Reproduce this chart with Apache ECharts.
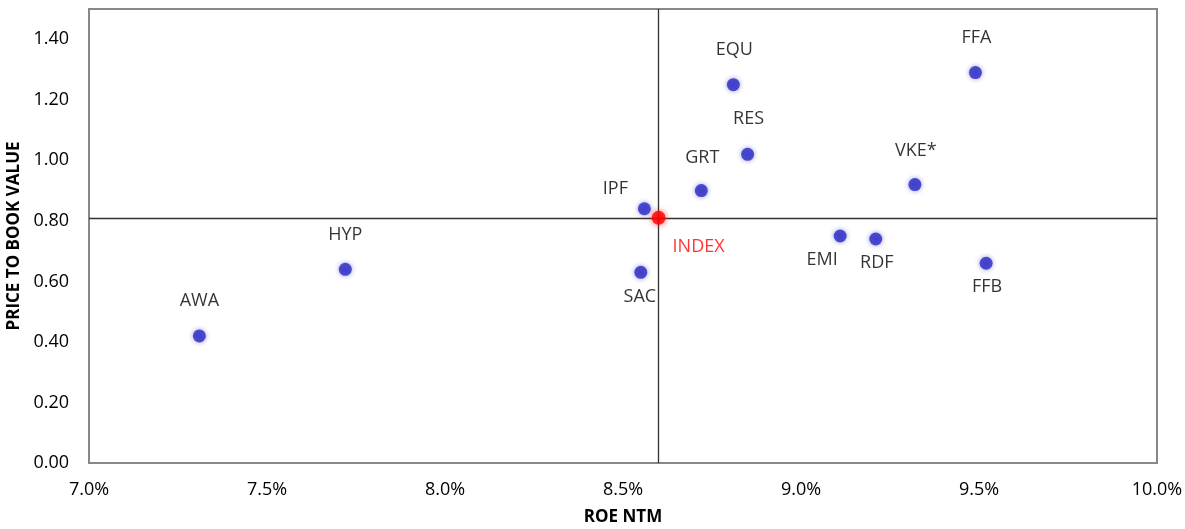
<!DOCTYPE html>
<html>
<head>
<meta charset="utf-8">
<script src="https://cdn.jsdelivr.net/npm/echarts@6/dist/echarts.min.js"></script>
<style>
  html, body { margin: 0; padding: 0; background: #fff; }
  #chart { width: 1185px; height: 529px; }
</style>
</head>
<body>
<div id="chart"></div>
<script>
// 数据
const names = ['AWA', 'HYP', 'SAC', 'IPF', 'GRT', 'EQU', 'RES', 'EMI', 'RDF', 'VKE*', 'FFA', 'FFB'];
const roe = [7.31, 7.72, 8.55, 8.56, 8.72, 8.81, 8.85, 9.11, 9.21, 9.32, 9.49, 9.52];
const ptb = [0.42, 0.64, 0.63, 0.84, 0.90, 1.25, 1.02, 0.75, 0.74, 0.92, 1.29, 0.66];
const indexPoint = [8.6, 0.81];

// 标签位置（样式）
const labelOffsets = {
  'AWA': [0, -35], 'HYP': [0, -34], 'SAC': [-1, 25], 'IPF': [-29, -20],
  'GRT': [1, -33], 'EQU': [1, -35], 'RES': [1, -35], 'EMI': [-18, 24],
  'RDF': [1, 24], 'VKE*': [1, -34], 'FFA': [1, -35], 'FFB': [1, 24]
};

const chart = echarts.init(document.getElementById('chart'));

const font = '"Open Sans", "Liberation Sans", sans-serif';

const option = {
  animation: false,
  grid: { left: 89, right: 28, top: 9, bottom: 66, outerBoundsMode: 'none', containLabel: false },
  xAxis: {
    type: 'value',
    min: 7.0,
    max: 10.0,
    interval: 0.5,
    name: 'ROE NTM',
    nameLocation: 'middle',
    nameGap: 46,
    nameTextStyle: { fontFamily: font, fontWeight: 'bold', fontSize: 17, color: '#000' },
    axisLine: { show: true, lineStyle: { color: '#888', width: 2 } },
    axisTick: { show: false },
    splitLine: { show: false },
    axisLabel: {
      fontFamily: font, fontSize: 18, color: '#000', margin: 18,
      formatter: v => v.toFixed(1) + '%'
    }
  },
  yAxis: {
    type: 'value',
    min: 0,
    max: 1.5,
    interval: 0.2,
    name: 'PRICE TO BOOK VALUE',
    nameLocation: 'middle',
    nameGap: 64,
    nameTextStyle: { fontFamily: font, fontWeight: 'bold', fontSize: 17, color: '#000' },
    axisLine: { show: true, lineStyle: { color: '#888', width: 2 } },
    axisTick: { show: false },
    splitLine: { show: false },
    axisLabel: {
      fontFamily: font, fontSize: 18, color: '#000', margin: 20,
      formatter: v => (v > 1.45 ? '' : v.toFixed(2))
    }
  },
  series: [
    {
      type: 'scatter',
      data: names.map((n, i) => ({
        value: [roe[i], ptb[i]],
        name: n,
        label: { offset: labelOffsets[n] }
      })),
      symbolSize: 13,
      itemStyle: { color: '#2a2ac4', shadowBlur: 5, shadowColor: 'rgba(40,40,200,0.6)' },
      label: {
        show: true,
        position: 'inside',
        formatter: p => p.name,
        fontFamily: font, fontSize: 18, color: '#000'
      },
      markLine: {
        silent: true,
        symbol: 'none',
        label: { show: false },
        lineStyle: { color: '#333', width: 1.3, type: 'solid' },
        data: [{ xAxis: indexPoint[0] }, { yAxis: indexPoint[1] }]
      }
    },
    {
      type: 'scatter',
      data: [{ value: indexPoint, name: 'INDEX' }],
      symbolSize: 14,
      z: 5,
      itemStyle: { color: '#ff0000', shadowBlur: 6, shadowColor: 'rgba(255,0,0,0.8)' },
      label: {
        show: true,
        position: 'inside',
        offset: [40, 29],
        formatter: 'INDEX',
        fontFamily: font, fontSize: 18, color: '#ff0000'
      }
    },
    {
      // 外框
      type: 'line',
      data: [],
      markArea: {
        silent: true,
        itemStyle: { color: 'rgba(0,0,0,0)', borderColor: '#888', borderWidth: 2 },
        data: [[{ xAxis: 7.0, yAxis: 0 }, { xAxis: 10.0, yAxis: 1.5 }]]
      }
    }
  ]
};

chart.setOption(option);
</script>
</body>
</html>
